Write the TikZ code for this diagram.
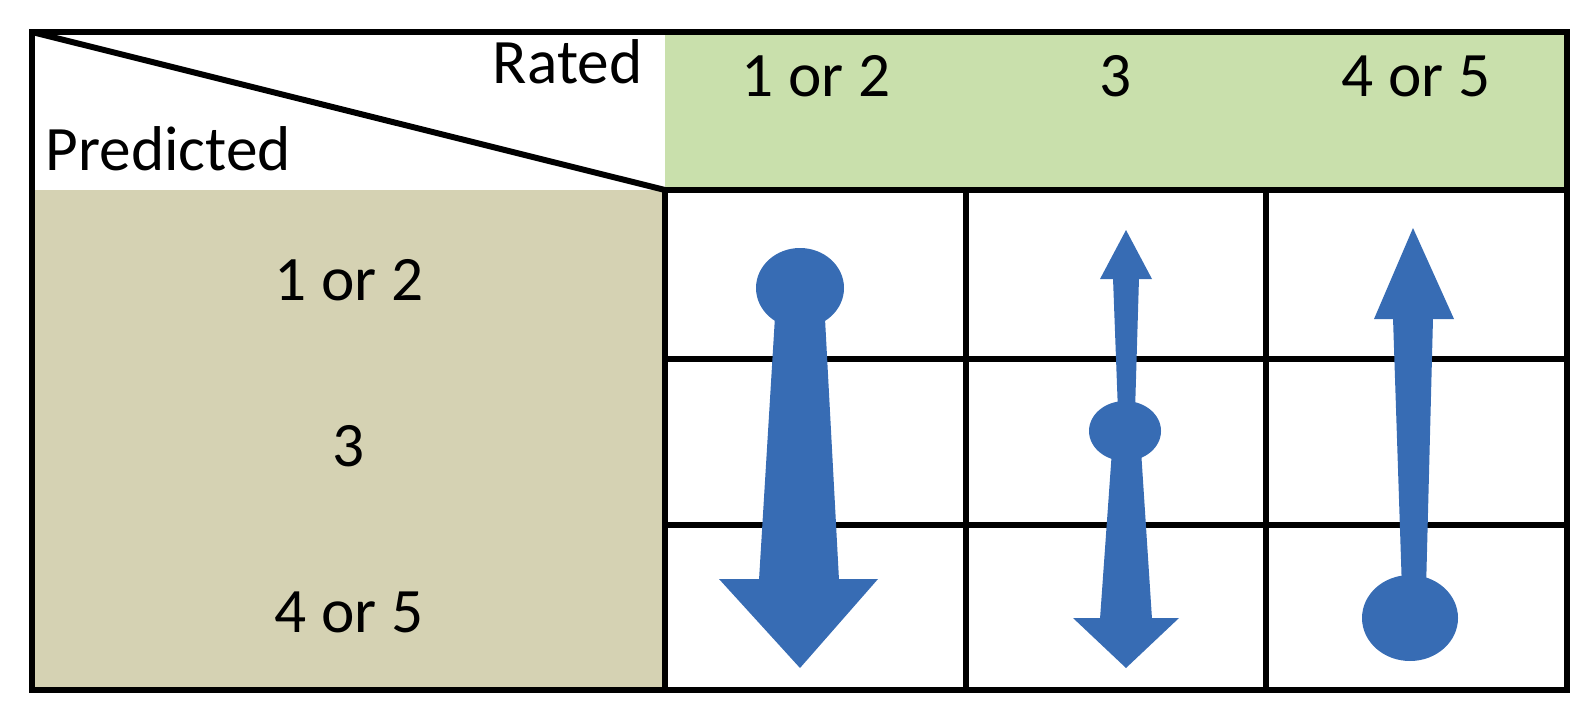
\documentclass[tikz,border=0pt]{standalone}
\usepackage{fontspec}
\setmainfont{Carlito}

\definecolor{ratedgreen}{HTML}{C9E0AC}
\definecolor{predtan}{HTML}{D5D2B3}
\definecolor{arrowblue}{HTML}{376CB4}

\begin{document}
\begin{tikzpicture}[
    x=0.01cm, y=-0.01cm,
    rule/.style={line width=1.7pt, black},
    lbl/.style={font=\fontsize{18}{22}\selectfont, inner sep=0pt},
    blob/.style={fill=arrowblue, draw=none}
]
    \useasboundingbox (0,0) rectangle (1594,718);

    % Header fills
    \fill[ratedgreen] (665,32) rectangle (1567,190);
    \fill[predtan] (32,190) rectangle (665,690);

    % Grid
    \draw[rule] (665,190) -- (1567,190);
    \foreach \y in {359,525}
        \draw[rule] (665,\y) -- (1567,\y);
    \foreach \x in {665,966,1266}
        \draw[rule] (\x,190) -- (\x,690);
    \draw[rule] (32,32) -- (665,190);
    \draw[rule] (32,32) rectangle (1567,690);

    % Corner labels
    \node[lbl, anchor=base east] (rated) at (643,83) {Rated};
    \node[lbl, anchor=base west] (pred) at (45,170) {Predicted};

    % Rated columns
    \node[lbl, anchor=base] (col12) at (816,96) {1 or 2};
    \node[lbl, anchor=base] (col3) at (1116,96) {3};
    \node[lbl, anchor=base] (col45) at (1416,96) {4 or 5};

    % Predicted rows
    \node[lbl, anchor=base] (row12) at (349,300) {1 or 2};
    \node[lbl, anchor=base] (row3) at (349,466) {3};
    \node[lbl, anchor=base] (row45) at (349,632) {4 or 5};

    % Rated 1 or 2: down
    \fill[blob] (800,288) ellipse [x radius=44, y radius=40];
    \fill[blob] (776,300) -- (824,300) -- (839,580) -- (759,580) -- cycle;
    \fill[blob] (719,579) -- (878,579) -- (800,668) -- cycle;

    % Rated 3: up and down
    \fill[blob] (1126,230) -- (1152,279) -- (1100,279) -- cycle;
    \fill[blob] (1113,278) -- (1139,278) -- (1135,412) -- (1118,412) -- cycle;
    \fill[blob] (1125,431) ellipse [x radius=36, y radius=30];
    \fill[blob] (1112,450) -- (1141,450) -- (1152,619) -- (1100,619) -- cycle;
    \fill[blob] (1073,618) -- (1179,618) -- (1126,668) -- cycle;

    % Rated 4 or 5: up
    \fill[blob] (1413,228) -- (1454,319) -- (1374,319) -- cycle;
    \fill[blob] (1393,318) -- (1433,318) -- (1426,590) -- (1402,590) -- cycle;
    \fill[blob] (1410,618) ellipse [x radius=48, y radius=43];
\end{tikzpicture}
\end{document}
